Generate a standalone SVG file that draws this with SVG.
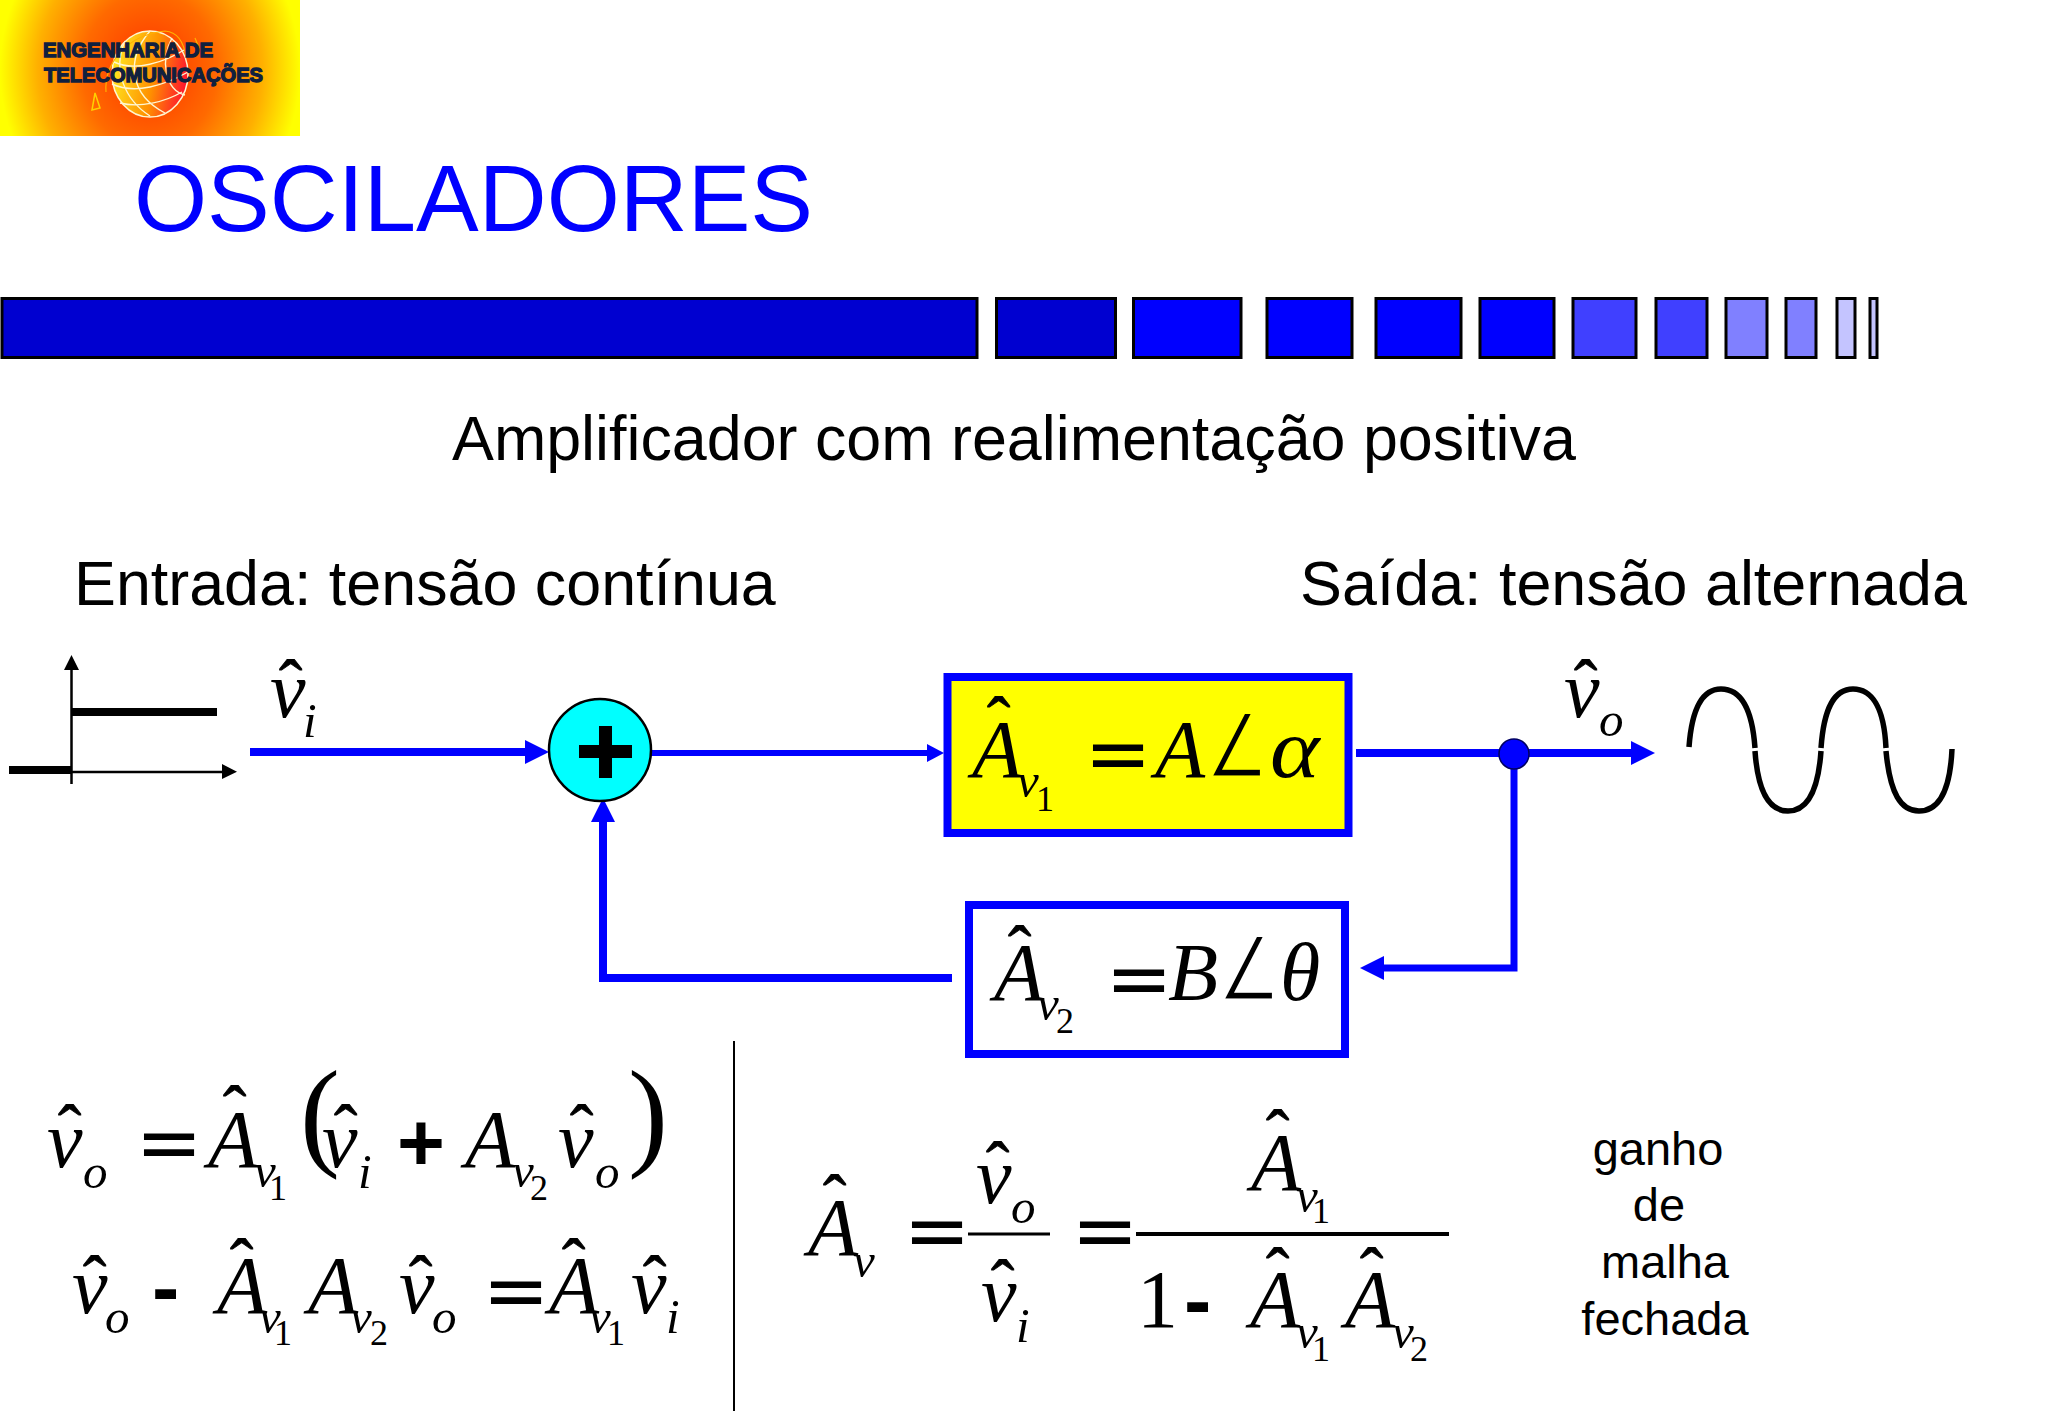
<svg xmlns="http://www.w3.org/2000/svg" width="2048" height="1418" viewBox="0 0 2048 1418">
<style>
.s{font-family:"Liberation Sans",Arial,sans-serif}
.t{font-size:62.8px;fill:#000}
.g{font-size:47px;fill:#000;text-anchor:middle}
.mi{font-family:"Liberation Serif","Times New Roman",serif;font-style:italic;font-size:82px;fill:#000}
.v{font-family:"Liberation Serif","Times New Roman",serif;font-style:italic;font-size:80px;fill:#000}
.ms{font-family:"Liberation Serif","Times New Roman",serif;font-style:italic;font-size:49px;fill:#000}
.d{font-family:"Liberation Serif","Times New Roman",serif;font-size:36px;fill:#000}
.h{font-family:"Liberation Serif","Times New Roman",serif;font-size:70px;fill:#000;stroke:#000;stroke-width:.9}
.eq{font-family:"DejaVu Sans",sans-serif;font-size:80px;fill:#000}
.op{font-family:"Liberation Sans",Arial,sans-serif;font-weight:bold;font-size:82px;fill:#000}
.pa{font-family:"Liberation Serif",serif;font-size:120px;fill:#000}
.ang{font-family:"DejaVu Sans",sans-serif;font-size:68px;fill:#000;stroke-width:2.2}
.blk{fill:none;stroke:#000}
.bar{stroke:#000;stroke-width:3}
.wire{fill:none;stroke:#0000ff;stroke-width:8}
.thin{stroke-width:6}
.mid{stroke-width:7}
</style>
<defs>
<radialGradient id="lg" gradientUnits="userSpaceOnUse" cx="0" cy="0" r="1" gradientTransform="translate(150 70) scale(150 170)">
<stop offset="0" stop-color="#ff3000"/><stop offset=".45" stop-color="#ff6a00"/><stop offset=".75" stop-color="#ffb000"/><stop offset="1" stop-color="#ffff00"/>
</radialGradient>
<linearGradient id="gl" x1="0" y1=".4" x2="1" y2=".6"><stop offset="0" stop-color="#ffe820"/><stop offset=".55" stop-color="#ff9000"/><stop offset="1" stop-color="#ff1030"/></linearGradient>
<marker id="ab" markerUnits="userSpaceOnUse" markerWidth="24" markerHeight="24" refX="0" refY="12" orient="auto"><path d="M0 0L24 12L0 24Z" fill="#0000ff"/></marker>
<marker id="as" markerUnits="userSpaceOnUse" markerWidth="17" markerHeight="18" refX="0" refY="9" orient="auto"><path d="M0 0L17 9L0 18Z" fill="#0000ff"/></marker>
</defs>
<rect width="2048" height="1418" fill="#fff"/>

<g id="logo">
<rect x="0" y="0" width="300" height="136" fill="url(#lg)"/>
<ellipse cx="150" cy="74" rx="38" ry="43" fill="url(#gl)" stroke="#fff6d0" stroke-width="1.5"/>
<path d="M125 41C112 70 125 100 150 116M150 31C125 60 130 95 165 113M172 38C160 60 165 90 185 95M114 62C135 72 165 62 184 50M112 84C135 95 165 85 188 72M120 103C140 108 165 102 182 92" fill="none" stroke="#fff6d0" stroke-width="1.4"/>
<path d="M106 92C104 65 125 35 165 31C178 32 184 42 186 58M195 38L199 48" fill="none" stroke="#ffb000" stroke-width="1.2"/>
<path d="M92 110L95 93L100 108Z" fill="none" stroke="#ffd000" stroke-width="1.5"/>
<text class="s" x="43" y="57" font-size="20" font-weight="bold" fill="#10203f" stroke="#10203f" stroke-width="1.3" textLength="170" lengthAdjust="spacingAndGlyphs">ENGENHARIA DE</text>
<text class="s" x="44" y="82" font-size="20" font-weight="bold" fill="#10203f" stroke="#10203f" stroke-width="1.3" textLength="219" lengthAdjust="spacingAndGlyphs">TELECOMUNICAÇÕES</text>
</g>

<g id="title"><text class="s" x="134" y="231" font-size="94" fill="#0000ff">OSCILADORES</text></g>

<g id="bars" class="bar">
<rect x="2" y="298.5" width="975" height="59" fill="#0000d0"/>
<rect x="996.5" y="298.5" width="119" height="59" fill="#0000d0"/>
<rect x="1133.5" y="298.5" width="107.5" height="59" fill="#0000ff"/>
<rect x="1267" y="298.5" width="85" height="59" fill="#0000ff"/>
<rect x="1376" y="298.5" width="85" height="59" fill="#0000ff"/>
<rect x="1480" y="298.5" width="74" height="59" fill="#0000ff"/>
<rect x="1573" y="298.5" width="63" height="59" fill="#4040ff"/>
<rect x="1656" y="298.5" width="51" height="59" fill="#4040ff"/>
<rect x="1726" y="298.5" width="41" height="59" fill="#8080ff"/>
<rect x="1786" y="298.5" width="30" height="59" fill="#8080ff"/>
<rect x="1837" y="298.5" width="18" height="59" fill="#c4c4ff"/>
<rect x="1870" y="298.5" width="7" height="59" fill="#c4c4ff"/>
</g>

<g id="headings">
<text class="s t" x="452" y="460">Amplificador com realimentação positiva</text>
<text class="s t" x="74" y="605">Entrada: tensão contínua</text>
<text class="s t" x="1300" y="605">Saída: tensão alternada</text>
</g>

<g id="step-graph">
<path class="blk" stroke-width="2.5" d="M71.5 670V784M71 772H222"/>
<path d="M64 670L71.5 655L79 670ZM222 764L237 771.7L222 779Z" fill="#000"/>
<path class="blk" stroke-width="8" d="M72 712H217M9 770H72"/>
</g>

<g id="connectors">
<line class="wire" x1="250" y1="752" x2="525" y2="752" marker-end="url(#ab)"/>
<line class="wire thin" x1="651" y1="753" x2="927" y2="753" marker-end="url(#as)"/>
<line class="wire" x1="1356" y1="753" x2="1631" y2="753" marker-end="url(#ab)"/>
<path class="wire mid" d="M1514 760V968H1384" marker-end="url(#ab)"/>
<path class="wire" d="M952 978H603V822" marker-end="url(#ab)"/>
</g>

<g id="summer">
<circle cx="600" cy="750" r="51" fill="#00ffff" stroke="#000" stroke-width="2.5"/>
<path d="M579 745H599V726H612V745H632V758H612V778H599V758H579Z" fill="#000"/>
</g>

<g id="junction"><circle cx="1514" cy="754" r="15" fill="#0000ff" stroke="#000060" stroke-width="1.5"/></g>

<g id="amp-box">
<rect x="947.5" y="677" width="401" height="156" fill="#ffff00" stroke="#0000ff" stroke-width="8"/>
<text><tspan class="h" x="987" y="745">ˆ</tspan><tspan class="mi" x="972" y="777">A</tspan><tspan class="ms" x="1017" y="797">v</tspan><tspan class="d" x="1036" y="811">1</tspan><tspan class="eq" x="1084.5" y="781">=</tspan><tspan class="mi" x="1155" y="777">A</tspan></text>
<text class="ang" stroke="#ffff00" transform="translate(1205 777) scale(1.05 1.3)">∠</text>
<text class="mi" transform="translate(1270 777) scale(1.15 1.03)">α</text>
</g>

<g id="feedback-box">
<rect x="969" y="905" width="376" height="149" fill="#fff" stroke="#0000ff" stroke-width="8"/>
<text><tspan class="h" x="1008" y="974">ˆ</tspan><tspan class="mi" x="994" y="1000">A</tspan><tspan class="ms" x="1037" y="1020">v</tspan><tspan class="d" x="1056" y="1033">2</tspan><tspan class="eq" x="1105.5" y="1006">=</tspan><tspan class="mi" x="1168" y="1000">B</tspan></text>
<text class="ang" stroke="#ffffff" transform="translate(1217 1000) scale(1.05 1.3)">∠</text>
<text class="mi" x="1280" y="1000">θ</text>
</g>

<g id="label-vi">
<text><tspan class="h" x="279" y="708">ˆ</tspan><tspan class="v" x="270" y="717">v</tspan><tspan class="ms" x="303" y="737">i</tspan></text>
</g>
<g id="label-vo">
<text><tspan class="h" x="1574" y="708">ˆ</tspan><tspan class="v" x="1564" y="717">v</tspan><tspan class="ms" x="1599" y="736">o</tspan></text>
</g>

<g id="sine"><path class="blk" stroke-width="5.5" d="M1689 747C1692 706 1703 689 1721 689C1739 689 1752 706 1755 748M1755 751C1758 794 1770 811 1788 811C1806 811 1818 794 1821 751M1821 748C1824 706 1835 689 1853 689C1871 689 1884 706 1886 748M1886 751C1890 794 1901 811 1919 811C1937 811 1950 794 1952 749"/></g>

<g id="eq1">
<text><tspan class="h" x="58" y="1153">ˆ</tspan><tspan class="v" x="47" y="1167">v</tspan><tspan class="ms" x="83" y="1188">o</tspan><tspan class="eq" x="135.5" y="1170">=</tspan><tspan class="h" x="223" y="1134">ˆ</tspan><tspan class="mi" x="208" y="1167">A</tspan><tspan class="ms" x="254" y="1187">v</tspan><tspan class="d" x="269" y="1200">1</tspan><tspan class="pa" x="300" y="1154">(</tspan><tspan class="h" x="334" y="1153">ˆ</tspan><tspan class="v" x="322" y="1167">v</tspan><tspan class="ms" x="358" y="1188">i</tspan><tspan class="op" x="397" y="1170">+</tspan><tspan class="mi" x="465" y="1167">A</tspan><tspan class="ms" x="512" y="1187">v</tspan><tspan class="d" x="530" y="1200">2</tspan><tspan class="h" x="570" y="1153">ˆ</tspan><tspan class="v" x="558" y="1167">v</tspan><tspan class="ms" x="595" y="1188">o</tspan><tspan class="pa" x="628" y="1154">)</tspan></text>
</g>

<g id="eq2">
<text><tspan class="h" x="83" y="1304">ˆ</tspan><tspan class="v" x="72" y="1313">v</tspan><tspan class="ms" x="105" y="1333">o</tspan><tspan class="op" x="152" y="1315">-</tspan><tspan class="h" x="230" y="1287">ˆ</tspan><tspan class="mi" x="217" y="1313">A</tspan><tspan class="ms" x="259" y="1333">v</tspan><tspan class="d" x="274" y="1345">1</tspan><tspan class="mi" x="308" y="1313">A</tspan><tspan class="ms" x="350" y="1333">v</tspan><tspan class="d" x="370" y="1345">2</tspan><tspan class="h" x="409" y="1304">ˆ</tspan><tspan class="v" x="399" y="1313">v</tspan><tspan class="ms" x="432" y="1333">o</tspan><tspan class="eq" x="482.5" y="1318">=</tspan><tspan class="h" x="562" y="1287">ˆ</tspan><tspan class="mi" x="549" y="1313">A</tspan><tspan class="ms" x="589" y="1333">v</tspan><tspan class="d" x="607" y="1345">1</tspan><tspan class="h" x="643" y="1304">ˆ</tspan><tspan class="v" x="631" y="1313">v</tspan><tspan class="ms" x="666" y="1333">i</tspan></text>
</g>

<line id="divider" x1="734" y1="1041" x2="734" y2="1411" stroke="#000" stroke-width="2"/>

<g id="eq3">
<text><tspan class="h" x="823" y="1223">ˆ</tspan><tspan class="mi" x="808" y="1255">A</tspan><tspan class="ms" x="853" y="1277">v</tspan><tspan class="eq" x="903.5" y="1258">=</tspan><tspan class="h" x="986" y="1190">ˆ</tspan><tspan class="v" x="976" y="1203">v</tspan><tspan class="ms" x="1011" y="1223">o</tspan><tspan class="h" x="991" y="1308">ˆ</tspan><tspan class="v" x="981" y="1321">v</tspan><tspan class="ms" x="1016" y="1342">i</tspan><tspan class="eq" x="1071.5" y="1258">=</tspan><tspan class="h" x="1266" y="1158">ˆ</tspan><tspan class="mi" x="1251" y="1190">A</tspan><tspan class="ms" x="1296" y="1212">v</tspan><tspan class="d" x="1312" y="1223">1</tspan><tspan class="d" style="font-size:82px" x="1137" y="1327">1</tspan><tspan class="op" x="1184" y="1328">-</tspan><tspan class="h" x="1266" y="1296">ˆ</tspan><tspan class="mi" x="1250" y="1327">A</tspan><tspan class="ms" x="1296" y="1348">v</tspan><tspan class="d" x="1312" y="1361">1</tspan><tspan class="h" x="1360" y="1296">ˆ</tspan><tspan class="mi" x="1345" y="1327">A</tspan><tspan class="ms" x="1392" y="1348">v</tspan><tspan class="d" x="1410" y="1361">2</tspan></text>
<line x1="968" y1="1234" x2="1050" y2="1234" stroke="#000" stroke-width="3"/>
<line x1="1136" y1="1234" x2="1449" y2="1234" stroke="#000" stroke-width="4"/>
</g>

<g id="note">
<text class="s g" x="1658" y="1165">ganho</text>
<text class="s g" x="1659" y="1221">de</text>
<text class="s g" x="1665" y="1278">malha</text>
<text class="s g" x="1665" y="1335">fechada</text>
</g>
</svg>
